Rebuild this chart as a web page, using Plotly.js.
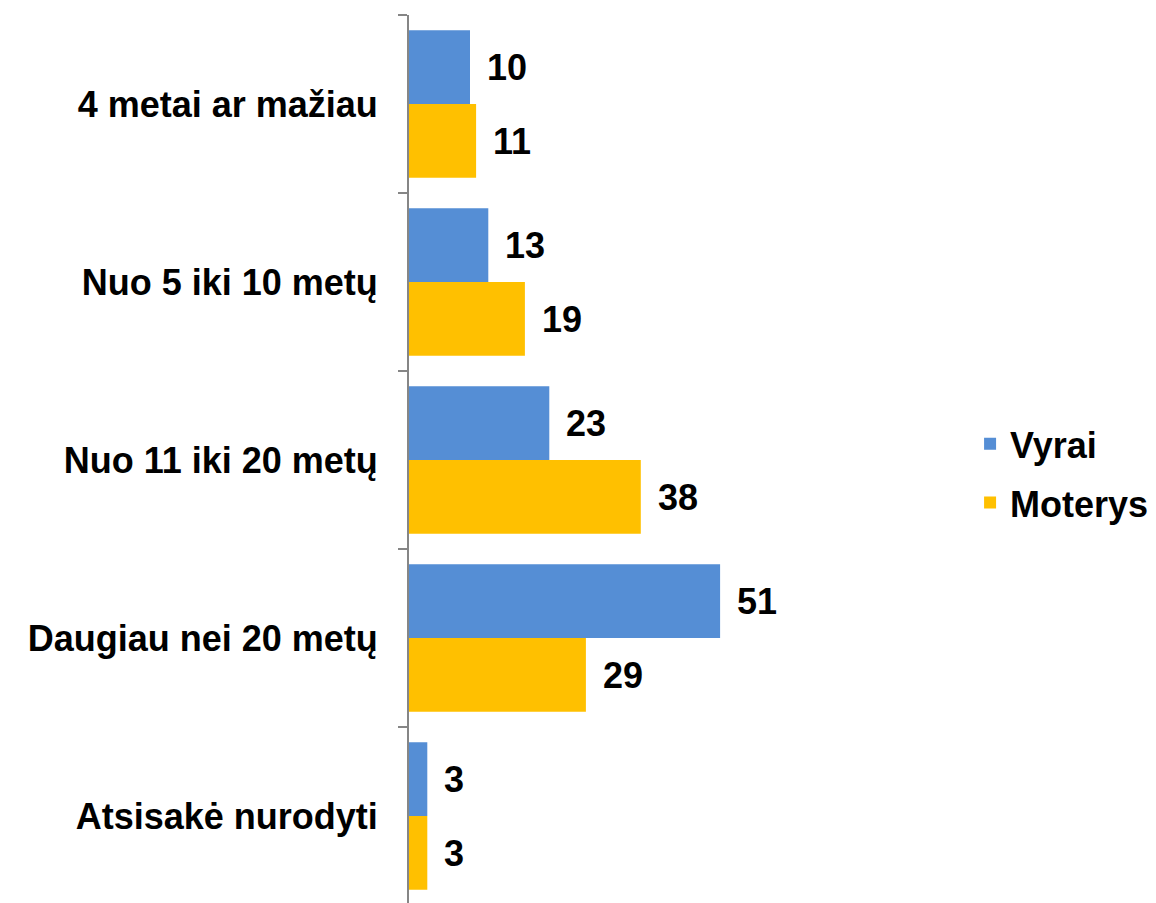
<!DOCTYPE html>
<html>
<head>
<meta charset="utf-8">
<script src="https://cdn.plot.ly/plotly-3.0.1.min.js"></script>
<style>
  html, body { margin: 0; padding: 0; background: #fff; overflow: hidden; }
  #chart { width: 1156px; height: 905px; }
</style>
</head>
<body>
<div id="chart"></div>
<script>
const categories = [
  "4 metai ar mažiau",
  "Nuo 5 iki 10 metų",
  "Nuo 11 iki 20 metų",
  "Daugiau nei 20 metų",
  "Atsisakė nurodyti"
];
const vyrai = [10, 13, 23, 51, 3];
const moterys = [11, 19, 38, 29, 3];

const FONT = { family: "Liberation Sans, Arial, sans-serif", size: 36, color: "#000", weight: "bold" };

const traces = [
  { name: "Vyrai", values: vyrai, color: "#558ED5", shift: 37 },
  { name: "Moterys", values: moterys, color: "#FFC000", shift: -37 }
];

const plotData = traces.map(t => ({
  type: "bar",
  orientation: "h",
  name: t.name,
  legendgroup: t.name,
  x: t.values,
  y: categories,
  marker: { color: t.color },
  hoverinfo: "x+name"
}));

// value labels just right of each bar
const annotations = [];
traces.forEach(t => {
  t.values.forEach((v, i) => {
    annotations.push({
      x: v, y: categories[i], xref: "x", yref: "y",
      text: String(v), showarrow: false,
      xanchor: "left", yanchor: "middle",
      xshift: 15, yshift: t.shift,
      font: FONT
    });
  });
});

const layout = {
  width: 1156,
  height: 905,
  barmode: "group",
  bargap: 0.17,
  bargroupgap: 0,
  margin: { l: 409, r: 198, t: 15, b: 0 },
  xaxis: {
    range: [0, 90],
    visible: false,
    fixedrange: true
  },
  yaxis: {
    autorange: "reversed",
    showline: true,
    linecolor: "#868686",
    linewidth: 2,
    ticks: "outside",
    tickson: "boundaries",
    ticklen: 9,
    tickcolor: "#868686",
    tickwidth: 2,
    ticklabelstandoff: 22,
    tickfont: FONT,
    showgrid: false,
    zeroline: false
  },
  legend: {
    x: 1.022, xanchor: "left",
    y: 0.485, yanchor: "middle",
    traceorder: "grouped",
    tracegroupgap: 9,
    font: FONT,
    itemwidth: 30
  },
  annotations: annotations,
  plot_bgcolor: "#fff",
  paper_bgcolor: "#fff"
};

Plotly.newPlot("chart", plotData, layout, { displayModeBar: false });
</script>
</body>
</html>
